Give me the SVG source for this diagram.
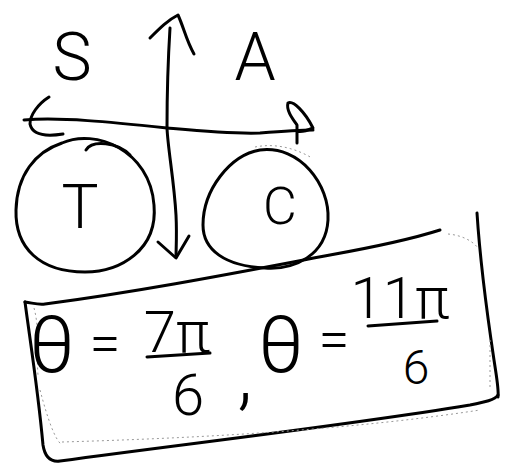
<svg xmlns="http://www.w3.org/2000/svg" width="506" height="469" viewBox="0 0 506 469">
<style>
.s{fill:none;stroke:#000;stroke-width:3;stroke-linecap:round;stroke-linejoin:round}
.f{fill:none;stroke:#999;stroke-width:1;stroke-dasharray:2 3}
.t{font-family:Roboto,"Liberation Sans",Arial,sans-serif;font-weight:300;fill:#000;text-anchor:middle}
</style>
<rect width="506" height="469" fill="#fff"/>
<g id="axes">
<path class="s" d="M170,28 C168,60 167,100 167,128 C168,150 174,180 176,215 C177,235 176,250 176,257"/>
<path class="s" d="M150,38 C160,28 168,20 178,15 C184,28 186,40 194,54"/>
<path class="s" d="M158,242 L176,258 L189,236"/>
<path class="s" d="M24,120 C60,117 110,122 167,128 C200,131 230,134 260,133 C285,131 300,130 313,130"/>
<path class="s" d="M49,97 C38,104 30,115 30,124 C32,134 44,137 63,134"/>
<path class="s" d="M297,143 L297,125 C292,118 286,110 288,103 C293,100 305,112 313,128 C306,131 300,132 297,131"/>
</g>
<g id="quadrant-S"><text class="t" x="72" y="80" font-size="66">S</text></g>
<g id="quadrant-A"><text class="t" x="255" y="80" font-size="66">A</text></g>
<g id="quadrant-T">
<path class="s" d="M62,143 C95,128 150,150 154,205 C158,250 120,272 85,272 C40,272 15,248 16,210 C17,175 35,152 62,143 Z"/>
<path class="s" d="M86,150 C92,140 118,142 130,155"/>
<text class="t" x="80" y="228" font-size="62">T</text>
</g>
<g id="quadrant-C">
<path class="s" d="M260,150 C300,145 330,185 328,220 C326,255 295,270 265,268 C225,266 203,250 203,225 C203,190 230,155 260,150 Z"/>
<path class="f" d="M255,147 C275,143 295,148 312,158"/>
<text class="t" x="280" y="224" font-size="52">C</text>
</g>
<g id="answer-box">
<path class="s" d="M25,302 C33,303 38,305 45,304 C150,290 250,270 330,255 C380,246 415,238 440,230"/>
<path class="s" d="M25,302 C30,340 38,390 43,445 C45,458 52,462 60,461 C200,442 350,425 470,405 C485,402 495,400 498,395"/>
<path class="s" d="M477,213 C480,260 488,320 494,360 C497,380 499,390 498,397"/>
<path class="f" d="M448,234 C460,235 472,240 478,248 M62,442 C200,438 350,430 480,410 M490,340 L490,388 M34,308 C40,330 36,350 38,375 M40,390 C48,420 55,440 62,445"/>
<text class="t" x="52" y="372" font-size="80">θ</text>
<text class="t" x="105" y="362" font-size="56">=</text>
<text class="t" x="177" y="352" font-size="58">7π</text>
<path class="s" d="M147,357 L210,353"/>
<text class="t" x="188" y="415" font-size="58">6</text>
<text class="t" x="245" y="400" font-size="80">,</text>
<text class="t" x="281" y="372" font-size="80">θ</text>
<text class="t" x="334" y="358" font-size="56">=</text>
<text class="t" x="400" y="318" font-size="58">11π</text>
<path class="s" d="M368,326 L437,321"/>
<text class="t" x="416" y="384" font-size="48">6</text>
</g>
</svg>
